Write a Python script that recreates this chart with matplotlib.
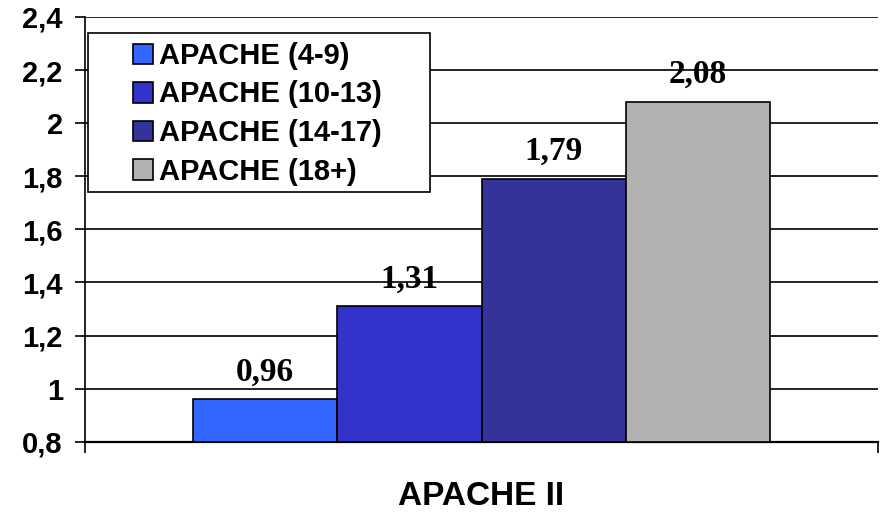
import matplotlib
matplotlib.use("Agg")
import matplotlib.pyplot as plt
from matplotlib.patches import Rectangle
from matplotlib.ticker import FuncFormatter

categories = ["APACHE (4-9)", "APACHE (10-13)", "APACHE (14-17)", "APACHE (18+)"]
values = [0.96, 1.31, 1.79, 2.08]
colors = ["#3366FF", "#3333CC", "#333399", "#B2B2B2"]
xlabel = "APACHE II"

W, H = 885, 513
fig = plt.figure(figsize=(W/100, H/100), dpi=100)
ax = fig.add_axes([85/W, 1-441.7/H, (878-85)/W, (441.7-17)/H])

w = 0.1822
n = len(values)
for i, (c, v, col) in enumerate(zip(categories, values, colors)):
    x = (i - (n-1)/2) * w
    ax.bar(x, v - 0.8, width=w, bottom=0.8, color=col, edgecolor="black",
           linewidth=1.2, label=c, zorder=3)
    ax.annotate(f"{v:.2f}".replace(".", ","), (x, v), xytext=(0, 8.5),
                textcoords="offset points", ha="center", va="bottom",
                fontsize=24, fontweight="bold", family="Liberation Serif", zorder=4)

ax.set_xlim(-0.5, 0.5)
ax.set_ylim(0.8, 2.4)
ax.set_yticks([0.8 + 0.2*k for k in range(9)])
ax.yaxis.set_major_formatter(FuncFormatter(lambda v, p: (f"{v:.1f}".rstrip("0").rstrip(".")).replace(".", ",")))
ax.yaxis.grid(True, color="black", linewidth=1.2, zorder=0)
ax.set_axisbelow(True)
ax.set_xticks([-0.5, 0.5])
ax.set_xticklabels(["", ""])
ax.tick_params(axis="x", direction="out", length=8, width=1.2)
ax.tick_params(axis="y", direction="out", length=7, width=1.2, pad=9)
for lab in ax.get_yticklabels():
    lab.set_fontfamily("Liberation Sans")
    lab.set_fontweight("bold")
    lab.set_fontsize(21)
ax.spines["top"].set_visible(False)
ax.spines["right"].set_visible(False)
ax.spines["left"].set_linewidth(1.2)
ax.spines["bottom"].set_linewidth(1.6)

ax.set_xlabel(xlabel, fontsize=24, fontweight="bold", family="Liberation Sans", labelpad=17)

# legend frame box
frame = Rectangle((88/W, 1-192/H), (430-88)/W, (192-33)/H,
                  transform=fig.transFigure, facecolor="white",
                  edgecolor="black", linewidth=1.2, zorder=5, clip_on=False)
ax.add_patch(frame)
leg = ax.legend(loc="upper left", bbox_to_anchor=(133/W, 1-42/H),
                bbox_transform=fig.transFigure, frameon=False,
                prop={"family": "Liberation Sans", "weight": "bold", "size": 21},
                handlelength=0.67, handleheight=0.7, handletextpad=0.22,
                labelspacing=0.36, borderpad=0, borderaxespad=0)
leg.set_zorder(6)

fig.savefig("out.png", dpi=100)
